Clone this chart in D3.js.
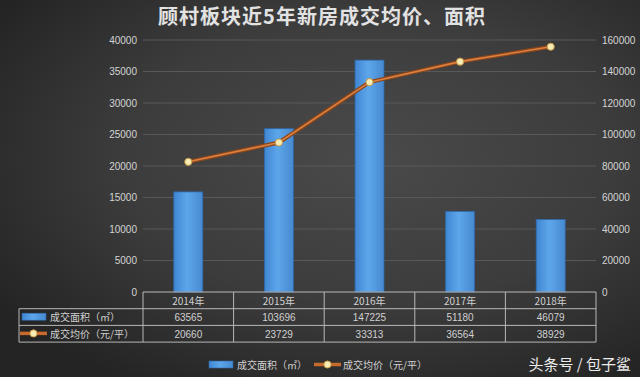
<!DOCTYPE html>
<html>
<head>
<meta charset="utf-8">
<script src="https://cdn.jsdelivr.net/npm/d3@7"></script>
<style>
  html, body { margin: 0; padding: 0; background: #2c2c2c; }
  svg { display: block; font-family: "Noto Sans CJK SC", "Liberation Sans", sans-serif; }
</style>
</head>
<body>
<script>
const WIDTH  = 640;
const HEIGHT = 377;

// chart data
const years     = ["2014年", "2015年", "2016年", "2017年", "2018年"];
const areaVals  = [63565, 103696, 147225, 51180, 46079];   // 成交面积 (right axis)
const priceVals = [20660, 23729, 33313, 36564, 38929];     // 成交均价 (left axis)
const leftTicks  = [0, 5000, 10000, 15000, 20000, 25000, 30000, 35000, 40000];
const rightTicks = [0, 20000, 40000, 60000, 80000, 100000, 120000, 140000, 160000];
const seriesNames = ["成交面积（㎡）", "成交均价（元/平）"];
const title = "顾村板块近5年新房成交均价、面积";

// plot area
const PLOT = { left: 143, right: 596, top: 40, bottom: 292 };
const TABLE_LEFT = 19;
const ROW_H = 16.7;

const svg = d3.select("body").append("svg")
  .attr("width", WIDTH)
  .attr("height", HEIGHT);

// background + gradients
const defs = svg.append("defs");
const bg = defs.append("radialGradient").attr("id", "bg")
  .attr("cx", "58%").attr("cy", "42%").attr("r", "70%");
bg.append("stop").attr("offset", "0%").attr("stop-color", "#4a4a4a");
bg.append("stop").attr("offset", "55%").attr("stop-color", "#3c3c3c");
bg.append("stop").attr("offset", "100%").attr("stop-color", "#242424");

const barGrad = defs.append("linearGradient").attr("id", "barGrad")
  .attr("x1", "0%").attr("x2", "100%").attr("y1", "0%").attr("y2", "0%");
barGrad.append("stop").attr("offset", "0%").attr("stop-color", "#3f86d2");
barGrad.append("stop").attr("offset", "45%").attr("stop-color", "#5ea6ea");
barGrad.append("stop").attr("offset", "100%").attr("stop-color", "#4689d0");

svg.append("rect")
  .attr("width", WIDTH).attr("height", HEIGHT)
  .attr("fill", "url(#bg)");

// title
svg.append("text")
  .attr("x", 322).attr("y", 24)
  .attr("text-anchor", "middle")
  .style("font-size", "20px")
  .style("font-weight", "bold")
  .style("letter-spacing", "1px")
  .style("fill", "#e2e2e2")
  .text(title);

// scales
const x = d3.scaleBand().domain(years).range([PLOT.left, PLOT.right]);
const yLeft  = d3.scaleLinear().domain([0, 40000]).range([PLOT.bottom, PLOT.top]);
const yRight = d3.scaleLinear().domain([0, 160000]).range([PLOT.bottom, PLOT.top]);

// gridlines
svg.append("g")
  .selectAll("line")
  .data(leftTicks.slice(1))
  .join("line")
    .attr("x1", PLOT.left).attr("x2", PLOT.right)
    .attr("y1", d => yLeft(d)).attr("y2", d => yLeft(d))
    .style("stroke", "#585858")
    .style("stroke-width", 1);

// left axis
const leftAxis = svg.append("g")
  .attr("transform", "translate(" + (PLOT.left - 6) + ",0)")
  .call(d3.axisLeft(yLeft).tickValues(leftTicks).tickFormat(d3.format("d")).tickSize(0).tickPadding(0));
leftAxis.select(".domain").remove();
leftAxis.selectAll("text")
  .style("font-family", "Liberation Sans, sans-serif")
  .style("font-size", "10px")
  .style("fill", "#d4d4d4");

// right axis
const rightAxis = svg.append("g")
  .attr("transform", "translate(" + (PLOT.right + 6) + ",0)")
  .call(d3.axisRight(yRight).tickValues(rightTicks).tickFormat(d3.format("d")).tickSize(0).tickPadding(0));
rightAxis.select(".domain").remove();
rightAxis.selectAll("text")
  .style("font-family", "Liberation Sans, sans-serif")
  .style("font-size", "10px")
  .style("fill", "#d4d4d4");

// bars (area, right axis)
const barW = x.bandwidth() * 0.32;
svg.append("g")
  .selectAll("rect")
  .data(areaVals)
  .join("rect")
    .attr("x", (d, i) => x(years[i]) + (x.bandwidth() - barW) / 2)
    .attr("y", d => yRight(d))
    .attr("width", barW)
    .attr("height", d => PLOT.bottom - yRight(d))
    .attr("fill", "url(#barGrad)")
    .style("stroke", "#2f68a8")
    .style("stroke-width", 0.8);

// price line (left axis)
const cx = i => x(years[i]) + x.bandwidth() / 2;
const line = d3.line()
  .x((d, i) => cx(i))
  .y(d => yLeft(d));

svg.append("path")
  .datum(priceVals)
  .attr("d", line)
  .style("fill", "none")
  .style("stroke", "#8f4518")
  .style("stroke-width", 4);
svg.append("path")
  .datum(priceVals)
  .attr("d", line)
  .style("fill", "none")
  .style("stroke", "#d98244")
  .style("stroke-width", 1.6);

svg.append("g")
  .selectAll("circle")
  .data(priceVals)
  .join("circle")
    .attr("cx", (d, i) => cx(i))
    .attr("cy", d => yLeft(d))
    .attr("r", 3.6)
    .style("fill", "#f6ecb4")
    .style("stroke", "#c39545")
    .style("stroke-width", 1);

// data table
const table = svg.append("g");
const gridColor = "#b8b8b8";
const rowY = [PLOT.bottom, PLOT.bottom + ROW_H, PLOT.bottom + ROW_H * 2, PLOT.bottom + ROW_H * 3];

// horizontal lines
table.append("line")
  .attr("x1", PLOT.left).attr("x2", PLOT.right)
  .attr("y1", rowY[0]).attr("y2", rowY[0])
  .style("stroke", gridColor);
rowY.slice(1).forEach(y => {
  table.append("line")
    .attr("x1", TABLE_LEFT).attr("x2", PLOT.right)
    .attr("y1", y).attr("y2", y)
    .style("stroke", gridColor);
});
// vertical lines
table.append("line")
  .attr("x1", TABLE_LEFT).attr("x2", TABLE_LEFT)
  .attr("y1", rowY[1]).attr("y2", rowY[3])
  .style("stroke", gridColor);
years.concat([null]).forEach((yr, i) => {
  const xx = yr ? x(yr) : PLOT.right;
  table.append("line")
    .attr("x1", xx).attr("x2", xx)
    .attr("y1", rowY[0]).attr("y2", rowY[3])
    .style("stroke", gridColor);
});

// header + values
const cellText = (txt, xx, y) => table.append("text")
  .attr("x", xx).attr("y", y)
  .attr("text-anchor", "middle")
  .style("font-size", "10px")
  .style("fill", "#d0d0d0")
  .text(txt);

years.forEach((yr, i) => {
  cellText(yr, cx(i), rowY[0] + 12.5);
  cellText(areaVals[i], cx(i), rowY[1] + 12.5).style("font-family", "Liberation Sans, sans-serif");
  cellText(priceVals[i], cx(i), rowY[2] + 12.5).style("font-family", "Liberation Sans, sans-serif");
});

// legend key for area series
function areaKey(g, x0, y0) {
  g.append("rect")
    .attr("x", x0).attr("y", y0 - 3.5)
    .attr("width", 24).attr("height", 7)
    .attr("fill", "url(#barGrad)")
    .style("stroke", "#2f68a8").style("stroke-width", 0.6);
}
function priceKey(g, x0, y0) {
  g.append("line")
    .attr("x1", x0).attr("x2", x0 + 27)
    .attr("y1", y0).attr("y2", y0)
    .style("stroke", "#c86a2c").style("stroke-width", 3.5);
  g.append("circle")
    .attr("cx", x0 + 13.5).attr("cy", y0).attr("r", 3.6)
    .style("fill", "#f6ecb4").style("stroke", "#c39545");
}

// row labels in table
areaKey(table, 22, rowY[1] + 8);
priceKey(table, 20, rowY[2] + 8);
table.append("text")
  .attr("x", 50).attr("y", rowY[1] + 12.5)
  .style("font-size", "10px").style("fill", "#d0d0d0")
  .text(seriesNames[0]);
table.append("text")
  .attr("x", 50).attr("y", rowY[2] + 12.5)
  .style("font-size", "10px").style("fill", "#d0d0d0")
  .text(seriesNames[1]);

// bottom legend
const legend = svg.append("g");
areaKey(legend, 209, 364.5);
legend.append("text")
  .attr("x", 237).attr("y", 368.5)
  .style("font-size", "10px").style("fill", "#d0d0d0")
  .text(seriesNames[0]);
priceKey(legend, 314, 364.5);
legend.append("text")
  .attr("x", 343).attr("y", 368.5)
  .style("font-size", "10px").style("fill", "#d0d0d0")
  .text(seriesNames[1]);

// watermark
svg.append("text")
  .attr("x", 631).attr("y", 370)
  .attr("text-anchor", "end")
  .style("font-size", "15px")
  .style("fill", "#ececec")
  .text("头条号 / 包子鲨");
</script>
</body>
</html>
